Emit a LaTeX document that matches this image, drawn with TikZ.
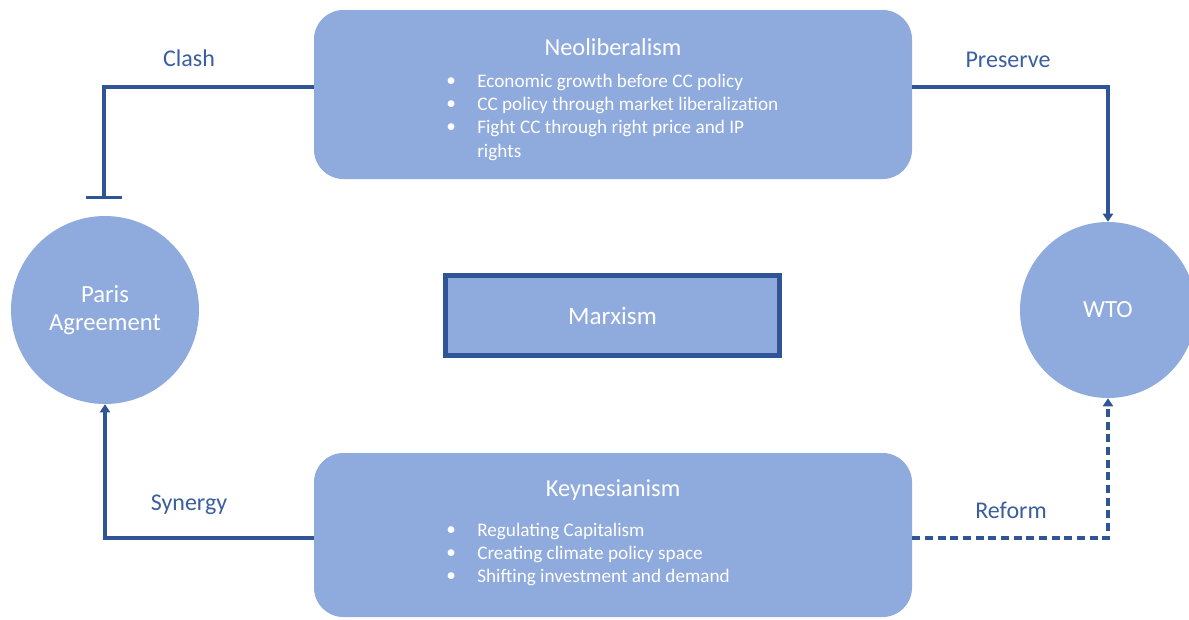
\documentclass[tikz,border=0pt]{standalone}
\usepackage{fontspec}
\setmainfont{Carlito}
\usetikzlibrary{arrows.meta}
\definecolor{boxfill}{HTML}{8FAADC}
\definecolor{lineblue}{HTML}{2F5597}
\definecolor{labelblue}{HTML}{3A5E9E}
\tikzset{
  panel/.style={fill=boxfill, draw=none, rounded corners=22pt, minimum width=448.5pt, inner sep=0pt},
  circ/.style={circle, fill=boxfill, draw=none, inner sep=0pt, text=white, align=center, font=\fontsize{18.5}{21.5}\selectfont},
  title/.style={text=white, font=\fontsize{18.3}{20}\selectfont, inner sep=0pt},
  bul/.style={text=white, font=\fontsize{14.4}{16}\selectfont, inner sep=0pt, anchor=west},
  conn/.style={draw=lineblue, line width=2.5pt},
  lab/.style={text=labelblue, font=\fontsize{18}{20}\selectfont, inner sep=0pt},
  tip/.style={-{Triangle[width=7.5pt,length=6pt]}},
}
\begin{document}
\begin{tikzpicture}[x=0.75pt,y=-0.75pt]
\useasboundingbox (0,0) rectangle (1189,619);
% panels
\node[panel, minimum height=126.75pt] (neo) at (613,94.5) {};
\node[panel, minimum height=123pt] (key) at (613,535) {};
% circles
\node[circ, minimum size=141pt] (paris) at (105,310) {Paris\\Agreement};
\node[circ, minimum size=132pt] (wto) at (1108,310) {WTO};
% Marxism
\node[fill=boxfill, draw=lineblue, line width=3.6pt, minimum width=250pt, minimum height=60pt, inner sep=0pt,
      text=white, font=\fontsize{18.8}{20}\selectfont] (marx) at (612.5,315.5) {Marxism};
% titles
\node[title] (neot) at (613,47) {Neoliberalism};
\node[title] (keyt) at (613,490) {Keynesianism};
% bullets neo
\node[bul] (nb1) at (446,82) {\textbullet};
\node[bul] (nt1) at (477,82) {Economic growth before CC policy};
\node[bul] (nb2) at (446,105) {\textbullet};
\node[bul] (nt2) at (477,105) {CC policy through market liberalization};
\node[bul] (nb3) at (446,128) {\textbullet};
\node[bul] (nt3) at (477,128) {Fight CC through right price and IP};
\node[bul] (nt4) at (477,152) {rights};
% bullets key
\node[bul] (kb1) at (446,531) {\textbullet};
\node[bul] (kt1) at (477,531) {Regulating Capitalism};
\node[bul] (kb2) at (446,554) {\textbullet};
\node[bul] (kt2) at (477,554) {Creating climate policy space};
\node[bul] (kb3) at (446,577) {\textbullet};
\node[bul] (kt3) at (477,577) {Shifting investment and demand};
% connector helpers
\coordinate (ctop) at (0,87);
\coordinate (cbot) at (0,538);
\coordinate (clashend) at (104,199);
% connectors
\draw[conn, -{Bar[width=27pt]}] (neo.west |- ctop) -| (clashend);
\draw[conn, tip] (neo.east |- ctop) -| (wto.north);
\draw[conn, tip] (key.west |- cbot) -| (paris.south);
\draw[conn, tip, dash pattern=on 6pt off 3.5pt] (key.east |- cbot) -| (wto.south);
% labels
\node[lab] (lclash) at (189,58) {Clash};
\node[lab] (lpres) at (1008,60) {Preserve};
\node[lab] (lsyn) at (189,505) {Synergy};
\node[lab] (lref) at (1011,510) {Reform};
\end{tikzpicture}
\end{document}
